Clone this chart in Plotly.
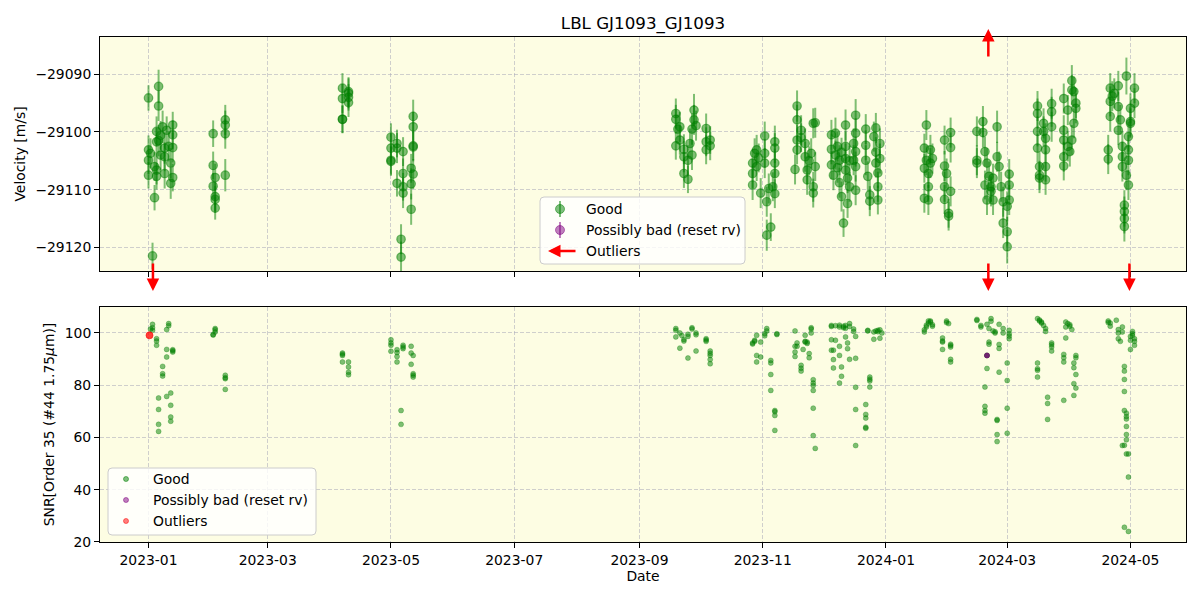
import plotly.graph_objects as go

# ------------------------------------------------------------------ data
# Top panel: velocity per night (values & uncertainties)
rv_nights = [
    "2023-01-01", "2023-01-02", "2023-01-03", "2023-01-04", "2023-01-05", "2023-01-06",
    "2023-01-07", "2023-01-08", "2023-01-09", "2023-01-10", "2023-01-11", "2023-01-12",
    "2023-01-13", "2023-02-02", "2023-02-03", "2023-02-08", "2023-04-07", "2023-04-10",
    "2023-05-01", "2023-05-04", "2023-05-06", "2023-05-07", "2023-05-11", "2023-05-12",
    "2023-09-19", "2023-09-20", "2023-09-21", "2023-09-23", "2023-09-25", "2023-09-26",
    "2023-09-27", "2023-09-28", "2023-09-29", "2023-10-04", "2023-10-06",
    "2023-10-27", "2023-10-28", "2023-10-29", "2023-10-30", "2023-10-31", "2023-11-02",
    "2023-11-03", "2023-11-04", "2023-11-05", "2023-11-06", "2023-11-07",
    "2023-11-17", "2023-11-18", "2023-11-20", "2023-11-22", "2023-11-23", "2023-11-24",
    "2023-11-25", "2023-11-26", "2023-11-27",
    "2023-12-05", "2023-12-06", "2023-12-07", "2023-12-08", "2023-12-09", "2023-12-10",
    "2023-12-11", "2023-12-12", "2023-12-13", "2023-12-14", "2023-12-16", "2023-12-17",
    "2023-12-22", "2023-12-23", "2023-12-24", "2023-12-26", "2023-12-27", "2023-12-28",
    "2023-12-29",
    "2024-01-20", "2024-01-21", "2024-01-22", "2024-01-23", "2024-01-24", "2024-01-30",
    "2024-01-31", "2024-02-01", "2024-02-02", "2024-02-15", "2024-02-18", "2024-02-19",
    "2024-02-20", "2024-02-21", "2024-02-22", "2024-02-23", "2024-02-25", "2024-02-26",
    "2024-02-27", "2024-02-28", "2024-03-01", "2024-03-02",
    "2024-03-16", "2024-03-17", "2024-03-19", "2024-03-20", "2024-03-23", "2024-03-29",
    "2024-03-31", "2024-04-01", "2024-04-02", "2024-04-03", "2024-04-04",
    "2024-04-20", "2024-04-21", "2024-04-22", "2024-04-23", "2024-04-25", "2024-04-26",
    "2024-04-27", "2024-04-28", "2024-04-29", "2024-04-30", "2024-05-01", "2024-05-03",
]
rv_values = [
    [-29094.1, -29107.5, -29104.9, -29103.1], [-29103.7], [-29121.5], [-29111.4, -29106.0],
    [-29099.9, -29101.7, -29106.6, -29107.7], [-29092.1, -29095.5, -29101.5],
    [-29100.6, -29104.0], [-29099.1], [-29102.8, -29104.3, -29107.2], [-29099.7], [-29102.5],
    [-29105.4, -29108.9], [-29098.8, -29100.5, -29102.7, -29107.9],
    [-29100.3, -29105.8, -29109.4], [-29107.9, -29111.2, -29111.7, -29113.2],
    [-29097.9, -29098.8, -29100.3, -29107.5], [-29092.4, -29094.2, -29097.8, -29097.8],
    [-29093.0, -29093.3, -29094.9, -29094.0],
    [-29100.9, -29102.8, -29104.9, -29105.1], [-29102.0, -29108.9, -29102.8], [-29118.6, -29121.7],
    [-29103.4, -29107.2, -29109.5, -29110.6], [-29106.3, -29109.0, -29113.4],
    [-29097.3, -29099.1, -29102.4, -29102.6, -29107.3],
    [-29096.8, -29097.8, -29102.4], [-29099.5], [-29099.1, -29101.4], [-29103.0, -29104.3, -29107.2],
    [-29108.2, -29104.9], [-29102.0], [-29099.5, -29104.0], [-29096.2, -29097.9], [-29098.9],
    [-29099.4, -29101.7, -29103.1], [-29101.4, -29102.4],
    [-29105.4, -29107.2, -29109.2], [-29103.7], [-29106.0, -29103.1], [-29104.5], [-29110.6],
    [-29100.7, -29103.7, -29105.4], [-29117.9, -29112.1], [-29109.8], [-29116.5], [-29109.5],
    [-29101.7, -29102.8, -29105.4, -29107.2, -29110.7],
    [-29106.5], [-29095.5, -29097.9, -29101.4, -29103.1], [-29099.7, -29101.0], [-29102.0, -29104.3],
    [-29106.6, -29108.3], [-29105.0], [-29103.7], [-29109.5, -29110.6, -29098.5], [-29098.4, -29106.0],
    [-29100.5, -29105.7, -29103.0], [-29107.5], [-29100.2, -29104.0], [-29102.5, -29106.2],
    [-29104.9, -29108.8], [-29111.2, -29103.5], [-29115.8], [-29098.8, -29102.5, -29104.6, -29106.6],
    [-29112.4, -29108.0], [-29109.5, -29105.0], [-29104.9, -29102.0],
    [-29097.1, -29100.2, -29103.4, -29106.0, -29110.1], [-29099.5, -29102.3, -29104.9], [-29107.7],
    [-29110.9, -29112.0], [-29100.8], [-29099.3, -29103.5, -29105.4], [-29107.1, -29109.5, -29111.8],
    [-29102.0, -29104.6],
    [-29102.8, -29106.3, -29111.5], [-29098.8, -29104.9], [-29107.2, -29109.5, -29111.8],
    [-29105.4, -29103.1], [-29104.6], [-29101.4, -29105.9, -29109.5, -29111.7], [-29107.2],
    [-29114.1, -29114.6], [-29100.1, -29102.7, -29110.3], [-29099.9, -29104.9, -29105.4],
    [-29098.2, -29100.1], [-29103.4, -29109.2], [-29105.4, -29111.8], [-29107.7],
    [-29109.5, -29110.3], [-29111.8, -29108.0], [-29099.1, -29104.3], [-29106.0], [-29109.5],
    [-29112.1, -29115.8], [-29117.3, -29112.9, -29119.9], [-29107.3, -29109.2, -29111.8],
    [-29095.5, -29096.8, -29099.9, -29102.8], [-29106.0, -29107.5, -29108.0], [-29098.5, -29099.9],
    [-29101.1, -29103.1, -29106.0, -29108.3], [-29095.1, -29096.5, -29099.1],
    [-29094.2, -29099.7, -29101.4, -29104.3, -29105.9], [-29096.2, -29102.5], [-29103.4],
    [-29091.1, -29092.7, -29101.4], [-29093.0, -29098.5], [-29095.0, -29095.9],
    [-29103.1, -29104.7], [-29092.4, -29094.7, -29097.3], [-29093.8], [-29093.3],
    [-29092.0, -29095.6, -29099.7], [-29097.9], [-29102.5, -29104.3, -29106.0],
    [-29112.7, -29115.0, -29116.4, -29113.8], [-29090.3, -29107.5],
    [-29109.2, -29100.8, -29104.9, -29103.1], [-29098.2, -29098.5, -29095.9], [-29092.4, -29095.0],
]
rv_errors = [
    [2.2, 2.3, 2.4, 2.5], [2.6], [2.3], [2.2, 2.5], [2.6, 2.4, 2.5, 2.3], [2.9, 2.6, 2.7],
    [2.5, 2.6], [2.8], [2.7, 2.5, 2.6], [2.4], [2.6], [2.6, 2.7], [2.3, 2.5, 2.6, 2.4],
    [2.3, 2.4, 2.3], [2.4, 2.5, 2.3, 2.0], [2.6, 2.5, 2.6, 2.8], [2.6, 2.5, 2.4, 2.4],
    [2.5, 2.6, 2.5, 2.3], [2.4, 2.5, 2.5, 2.5], [2.4, 2.3, 2.6], [2.6, 2.7], [2.5, 2.6, 2.4, 2.6],
    [2.5, 2.7, 2.7], [2.9, 2.6, 2.5, 2.5, 2.6],
    [2.6, 2.5, 2.4], [2.5], [2.6, 2.5], [2.6, 2.7, 2.5], [2.4, 2.6], [2.6], [2.7, 2.6], [2.8, 2.6],
    [2.6], [2.6, 2.5, 2.5], [2.4, 2.5],
    [2.5, 2.5, 2.6], [2.6], [2.5, 2.6], [2.5], [2.6], [2.5, 2.5, 2.6], [2.7, 2.6], [2.6], [2.4],
    [2.5], [2.8, 2.6, 2.5, 2.6, 2.5],
    [2.6], [2.7, 2.6, 2.6, 2.5], [2.6, 2.5], [2.6, 2.6], [2.5, 2.6], [2.5], [2.6], [2.6, 2.5, 2.6],
    [2.6, 2.5],
    [2.6, 2.5, 2.6], [2.6], [2.7, 2.5], [2.6, 2.6], [2.6, 2.6], [2.6, 2.5], [2.4], [2.7, 2.6, 2.6, 2.6],
    [2.5, 2.6], [2.6, 2.6], [2.6, 2.6], [2.8, 2.6, 2.6, 2.6, 2.6], [2.6, 2.6, 2.6], [2.6],
    [2.6, 2.6], [2.6], [2.6, 2.6, 2.5], [2.6, 2.6, 2.5], [2.6, 2.6],
    [2.5, 2.5, 2.5], [2.6, 2.6], [2.5, 2.6, 2.6], [2.6, 2.6], [2.6], [2.5, 2.6, 2.6, 2.5], [2.6],
    [2.5, 2.5], [2.6, 2.6, 2.6], [2.6, 2.6, 2.6], [2.7, 2.6], [2.6, 2.5], [2.6, 2.6], [2.6],
    [2.6, 2.6], [2.6, 2.5], [2.8, 2.6], [2.6], [2.6], [2.6, 2.6], [2.6, 2.6, 2.9], [2.6, 2.6, 2.6],
    [2.6, 2.6, 2.6, 2.5], [2.5, 2.5, 2.6], [2.6, 2.6], [2.6, 2.6, 2.6, 2.6], [2.6, 2.6, 2.6],
    [2.6, 2.6, 2.6, 2.6, 2.5], [2.6, 2.6], [2.6], [2.7, 2.6, 2.6], [2.6, 2.6], [2.6, 2.6],
    [2.6, 2.6], [2.6, 2.6, 2.6], [2.6], [2.6], [2.6, 2.6, 2.6], [2.6], [2.6, 2.6, 2.6],
    [2.6, 2.6, 2.6, 2.6], [3.2, 2.6], [2.6, 2.6, 2.6, 2.6], [2.6, 2.6, 2.6], [2.6, 2.6],
]

# Bottom panel: SNR per night
snr_nights = [
    "2023-01-02", "2023-01-03", "2023-01-05", "2023-01-06", "2023-01-08", "2023-01-10",
    "2023-01-11", "2023-01-12", "2023-01-13", "2023-02-02", "2023-02-03", "2023-02-08",
    "2023-04-07", "2023-04-10", "2023-05-01", "2023-05-04", "2023-05-06", "2023-05-07",
    "2023-05-11", "2023-05-12",
    "2023-09-19", "2023-09-21", "2023-09-22", "2023-09-23", "2023-09-25", "2023-09-27",
    "2023-09-29", "2023-10-04", "2023-10-06",
    "2023-10-27", "2023-10-28", "2023-10-29", "2023-10-31", "2023-11-02", "2023-11-03",
    "2023-11-05", "2023-11-07", "2023-11-08",
    "2023-11-17", "2023-11-18", "2023-11-20", "2023-11-21", "2023-11-22", "2023-11-23",
    "2023-11-24", "2023-11-25", "2023-11-26", "2023-11-27",
    "2023-12-05", "2023-12-06", "2023-12-07", "2023-12-09", "2023-12-10", "2023-12-11",
    "2023-12-12", "2023-12-13", "2023-12-14", "2023-12-16", "2023-12-17",
    "2023-12-22", "2023-12-23", "2023-12-24", "2023-12-26", "2023-12-27", "2023-12-28",
    "2023-12-29", "2023-12-30",
    "2024-01-20", "2024-01-21", "2024-01-22", "2024-01-23", "2024-01-24", "2024-01-29",
    "2024-01-31", "2024-02-01", "2024-02-02",
    "2024-02-15", "2024-02-17", "2024-02-19", "2024-02-20", "2024-02-21", "2024-02-22",
    "2024-02-23", "2024-02-24", "2024-02-25", "2024-02-26", "2024-02-28", "2024-03-01",
    "2024-03-02",
    "2024-03-16", "2024-03-17", "2024-03-18", "2024-03-19", "2024-03-20", "2024-03-21",
    "2024-03-23", "2024-03-29", "2024-03-30", "2024-03-31", "2024-04-01", "2024-04-02",
    "2024-04-03", "2024-04-04",
    "2024-04-20", "2024-04-21", "2024-04-24", "2024-04-25", "2024-04-26", "2024-04-27",
    "2024-04-28", "2024-04-29", "2024-04-30", "2024-05-01", "2024-05-02", "2024-05-03",
]
snr_values = [
    [101.5], [102.0, 103.3, 101.0], [97.8, 96.9, 95.3], [75.1, 70.7, 65.0, 62.3], [87.2, 84.4, 83.5],
    [93.7, 90.8, 75.7, 101.3], [103.6, 102.8], [77.0, 72.3, 67.8, 66.2], [93.6, 92.7, 93.2],
    [99.4, 99.2], [100.4, 101.7, 101.2], [83.8, 82.5, 78.4, 82.9],
    [92.3, 91.4, 88.9, 91.9], [88.9, 87.0, 85.0, 84.0], [97.4, 95.3, 93.0, 96.2],
    [93.6, 91.0, 88.9, 92.5], [70.3, 65.0], [95.3, 94.0, 94.6], [94.9, 92.3, 88.0],
    [91.4, 84.4, 83.1, 83.8],
    [101.7, 98.5, 101.0], [100.0, 94.2], [99.0], [96.9, 97.5], [98.7, 90.4, 99.5], [102.0, 101.5],
    [100.0, 93.1, 99.3], [97.8, 96.8, 97.3], [93.1, 91.4, 89.8, 88.2, 92.2],
    [96.2, 95.8], [97.2, 96.8], [99.1, 91.4, 88.9], [90.8, 96.5], [99.7, 98.9], [101.7, 100.8],
    [89.5, 88.5, 84.1, 78.0], [70.3, 69.8, 68.4, 62.7], [99.7, 99.4],
    [100.8, 94.9, 92.7, 91.0], [96.2, 94.9], [87.6, 85.4, 86.5], [93.7], [96.8, 99.1, 96.5],
    [96.5, 96.0], [92.1, 90.5], [102.0, 100.0, 101.5], [82.1, 79.9, 78.0, 71.2, 60.7, 80.8], [55.8],
    [102.9, 102.5, 97.4, 93.4], [93.4, 89.8, 86.6], [97.2, 102.8], [102.3, 103.0, 94.9, 91.4, 80.8],
    [87.0, 83.4], [102.0, 102.6], [102.9, 98.5, 101.8], [96.2, 94.0], [103.6, 89.9, 102.5],
    [100.6, 101.5], [98.7, 90.3, 79.2, 70.7, 56.9],
    [72.6, 68.8, 67.4, 63.9, 63.5], [100.8, 101.0], [83.1, 81.6, 79.3, 82.3], [100.4, 97.6],
    [100.8], [101.0, 100.5], [98.0, 101.2], [100.0],
    [100.4, 101.2], [102.3, 103.0], [104.6, 103.8], [104.2, 104.6], [102.6, 103.2],
    [98.1, 96.5, 96.9, 93.7], [104.6, 104.0], [103.6], [95.7, 94.6, 89.9, 88.9, 95.2],
    [105.2, 104.8], [102.9, 102.3], [79.3, 71.9, 70.3, 69.3], [91.4, 91.4, 86.4, 103.3],
    [96.5, 95.7, 101.7], [105.5, 104.5], [100.8], [100.0, 100.5], [66.9, 66.5, 61.1, 58.4],
    [103.3, 94.1, 95.6, 85.0], [101.7, 100.0], [88.5, 81.8, 71.2, 61.6], [101.0, 99.7, 97.8, 98.8],
    [105.5, 88.5, 85.7, 86.3, 83.1], [104.6, 105.0], [103.8, 104.2], [102.9], [101.7, 100.6],
    [75.4, 73.0, 66.9], [96.2, 94.6, 93.1, 95.5], [91.8, 90.5, 88.9, 74.2], [102.3, 98.1, 104.2],
    [103.6], [102.6, 103.2], [101.3], [88.5, 86.7, 80.6, 76.1], [91.4, 90.5, 84.1, 78.9],
    [104.6, 104.0], [103.8, 102.6], [104.9], [101.3, 100.0, 97.8], [96.8], [102.3, 100.4, 56.9],
    [87.2, 85.4, 82.2, 77.6, 25.6, 70.3, 57.0], [69.3, 68.0, 67.1, 64.2, 61.1, 59.1, 53.7],
    [53.7, 44.8, 24.0], [98.7, 93.7, 97.2], [100.6, 99.7, 99.0], [97.8, 96.8, 95.3],
]

bad_dates = ["2024-02-20", "2024-02-20"]
bad_snr = [91.4, 91.4]
outlier_dates = ["2023-01-01 12:00", "2023-01-01 12:00"]
outlier_snr = [99.1, 99.1]
outlier_low_dates = ["2023-01-03 05:00", "2024-02-20 16:00", "2024-04-30 12:00"]
outlier_high_dates = ["2024-02-20 16:00"]

tick_dates = ["2023-01-01", "2023-03-01", "2023-05-01", "2023-07-01", "2023-09-01",
              "2023-11-01", "2024-01-01", "2024-03-01", "2024-05-01"]
tick_labels = ["2023-01", "2023-03", "2023-05", "2023-07", "2023-09",
               "2023-11", "2024-01", "2024-03", "2024-05"]
vel_ticks = [-29120, -29110, -29100, -29090]
snr_ticks = [20, 40, 60, 80, 100]


def flatten(nights, vals, errs=None):
    xs, ys, es = [], [], []
    for i, (d, vs) in enumerate(zip(nights, vals)):
        for j, v in enumerate(vs):
            xs.append(d)
            ys.append(v)
            if errs is not None:
                row = errs[i] if i < len(errs) else []
                es.append(row[j] if j < len(row) else 2.6)
    return xs, ys, es


rv_x, rv_y, rv_e = flatten(rv_nights, rv_values, rv_errors)
snr_x, snr_y, _ = flatten(snr_nights, snr_values)

# ------------------------------------------------------------------ layout helpers
W, H = 1200, 600
ML, MR, MT, MB = 100, 14, 37, 58
PW, PH = W - ML - MR, H - MT - MB


def px(x):
    return (x - ML) / PW


def py(y):
    return (H - MB - y) / PH


GREEN = "rgba(0,128,0,0.5)"
PURPLE = "rgba(128,0,128,0.5)"
RED = "rgba(255,0,0,0.5)"
BG = "#fdfde3"
GRID = "rgba(170,170,185,0.55)"
FONT = "DejaVu Sans"

fig = go.Figure()

fig.add_trace(go.Scatter(
    x=rv_x, y=rv_y, mode="markers", xaxis="x", yaxis="y", showlegend=False,
    marker=dict(size=8.5, color=GREEN, line=dict(color=GREEN, width=1.2)),
    error_y=dict(type="data", array=rv_e, visible=True, color=GREEN, thickness=2, width=0),
    name="Good"))

fig.add_trace(go.Scatter(
    x=snr_x, y=snr_y, mode="markers", xaxis="x2", yaxis="y2", showlegend=False,
    marker=dict(size=5, color=GREEN, line=dict(color=GREEN, width=0.6)), name="Good"))
fig.add_trace(go.Scatter(
    x=bad_dates, y=bad_snr, mode="markers", xaxis="x2", yaxis="y2", showlegend=False,
    marker=dict(size=5, color=PURPLE, line=dict(color=PURPLE, width=0.6)),
    name="Possibly bad (reset rv)"))
fig.add_trace(go.Scatter(
    x=outlier_dates, y=outlier_snr, mode="markers", xaxis="x2", yaxis="y2", showlegend=False,
    marker=dict(size=7, color=RED, line=dict(color=RED, width=0.6)), name="Outliers"))

# ------------------------------------------------------------------ outlier arrows
annotations = []
for d in outlier_low_dates:
    annotations.append(dict(x=d, xref="x", y=py(291), yref="paper", ax=0, ay=-29,
                            text="", showarrow=True, arrowhead=2, arrowsize=1,
                            arrowwidth=2.5, arrowcolor="red", standoff=0, startstandoff=0))
for d in outlier_high_dates:
    annotations.append(dict(x=d, xref="x", y=py(29), yref="paper", ax=0, ay=29,
                            text="", showarrow=True, arrowhead=2, arrowsize=1,
                            arrowwidth=2.5, arrowcolor="red", standoff=0, startstandoff=0))


# ------------------------------------------------------------------ manual legends
def rrect(x0, y0, x1, y1, r=4):
    return (f"M {px(x0 + r)},{py(y0)} L {px(x1 - r)},{py(y0)} "
            f"Q {px(x1)},{py(y0)} {px(x1)},{py(y0 + r)} L {px(x1)},{py(y1 - r)} "
            f"Q {px(x1)},{py(y1)} {px(x1 - r)},{py(y1)} L {px(x0 + r)},{py(y1)} "
            f"Q {px(x0)},{py(y1)} {px(x0)},{py(y1 - r)} L {px(x0)},{py(y0 + r)} "
            f"Q {px(x0)},{py(y0)} {px(x0 + r)},{py(y0)} Z")


shapes = []


def circle(cx, cy, d, color):
    shapes.append(dict(type="circle", xref="paper", yref="paper",
                       x0=px(cx - d / 2), x1=px(cx + d / 2), y0=py(cy + d / 2), y1=py(cy - d / 2),
                       fillcolor=color, line=dict(color=color, width=1)))


def vline(cx, cy, h, color):
    shapes.append(dict(type="line", xref="paper", yref="paper",
                       x0=px(cx), x1=px(cx), y0=py(cy + h), y1=py(cy - h),
                       line=dict(color=color, width=2)))


def label(x, y, text):
    annotations.append(dict(x=px(x), y=py(y), xref="paper", yref="paper", text=text,
                            showarrow=False, xanchor="left", yanchor="middle",
                            font=dict(family=FONT, size=13.9, color="black")))


# top legend
shapes.append(dict(type="path", xref="paper", yref="paper", path=rrect(540, 197, 745, 264),
                   fillcolor="rgba(255,255,255,0.8)", line=dict(color="#cccccc", width=1)))
top_rows = [209, 230, 251]
vline(560, top_rows[0], 8, GREEN)
circle(560, top_rows[0], 9, GREEN)
vline(560, top_rows[1], 8, PURPLE)
circle(560, top_rows[1], 9, PURPLE)
annotations.append(dict(x=px(548), y=py(top_rows[2]), xref="paper", yref="paper", ax=29, ay=0,
                        text="", showarrow=True, arrowhead=2, arrowsize=1, arrowwidth=2.5,
                        arrowcolor="red", standoff=0, startstandoff=0))
label(584, top_rows[0], "Good")
label(584, top_rows[1], "Possibly bad (reset rv)")
label(584, top_rows[2], "Outliers")

# bottom legend
shapes.append(dict(type="path", xref="paper", yref="paper", path=rrect(108, 468, 316, 535),
                   fillcolor="rgba(255,255,255,0.8)", line=dict(color="#cccccc", width=1)))
bot_rows = [479, 500, 521]
circle(126, bot_rows[0], 5, GREEN)
circle(126, bot_rows[1], 5, PURPLE)
circle(126, bot_rows[2], 5, RED)
label(151, bot_rows[0], "Good")
label(151, bot_rows[1], "Possibly bad (reset rv)")
label(151, bot_rows[2], "Outliers")

# ------------------------------------------------------------------ axes
x_range = ["2022-12-08", "2024-05-28 12:00"]
common_x = dict(type="date", range=x_range, tickvals=tick_dates, ticktext=tick_labels,
                ticks="outside", ticklen=5, tickwidth=1, tickcolor="black",
                showline=True, linecolor="black", linewidth=1, mirror=True,
                showgrid=True, gridcolor=GRID, griddash="4px,2px", gridwidth=1,
                zeroline=False, tickfont=dict(family=FONT, size=13.9, color="black"))
common_y = dict(ticks="outside", ticklen=5, tickwidth=1, tickcolor="black",
                showline=True, linecolor="black", linewidth=1, mirror=True,
                showgrid=True, gridcolor=GRID, griddash="4px,2px", gridwidth=1,
                zeroline=False, tickformat="d",
                tickfont=dict(family=FONT, size=13.9, color="black"))

fig.update_layout(
    width=W, height=H, autosize=False,
    margin=dict(l=ML, r=MR, t=MT, b=MB, autoexpand=False),
    paper_bgcolor="white", plot_bgcolor=BG,
    font=dict(family=FONT, size=13.9, color="black"),
    title=dict(text="LBL GJ1093_GJ1093", x=643 / W, xanchor="center", xref="container",
               y=1 - 23 / H, yanchor="middle", yref="container",
               font=dict(family=FONT, size=16.7, color="black")),
    xaxis=dict(common_x, domain=[0, 1], anchor="y", showticklabels=False),
    xaxis2=dict(common_x, domain=[0, 1], anchor="y2", matches="x", showticklabels=True,
                title=dict(text="Date", standoff=4, font=dict(family=FONT, size=13.9))),
    yaxis=dict(common_y, domain=[py(271), 1], anchor="x",
               range=[-29124.11, -29083.53], tickvals=vel_ticks,
               title=dict(text="Velocity [m/s]", standoff=6, font=dict(family=FONT, size=13.9))),
    yaxis2=dict(common_y, domain=[0, py(307)], anchor="x2",
                range=[19.95, 109.95], tickvals=snr_ticks,
                title=dict(text="SNR[Order 35 (#44 1.75<i>μ</i>m)]", standoff=6,
                           font=dict(family=FONT, size=13.9))),
    shapes=shapes,
    annotations=annotations,
)

fig.write_html("out.html", config={"displayModeBar": False},
               post_script="document.body.style.margin='0px';document.body.style.padding='0px';")
